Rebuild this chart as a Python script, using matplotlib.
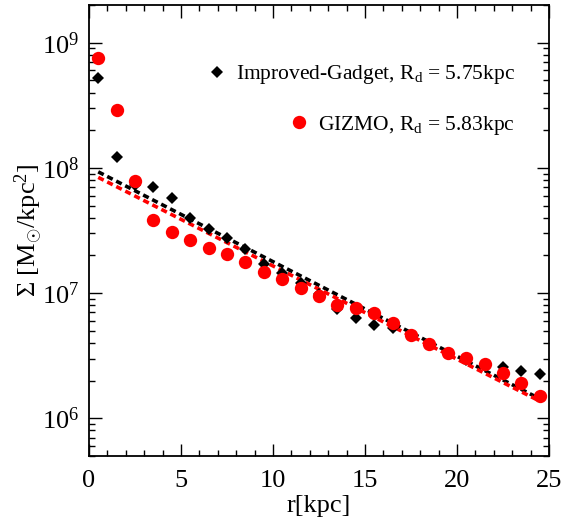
import numpy as np
import matplotlib
matplotlib.use('Agg')
import matplotlib.pyplot as plt
from matplotlib.ticker import MultipleLocator, LogLocator, LogFormatterMathtext, NullFormatter
from matplotlib.lines import Line2D

plt.rcParams['font.family'] = ['Liberation Serif', 'DejaVu Serif']
plt.rcParams['mathtext.fontset'] = 'custom'
plt.rcParams['mathtext.rm'] = 'Liberation Serif'
plt.rcParams['mathtext.it'] = 'Liberation Serif:italic'
plt.rcParams['mathtext.bf'] = 'Liberation Serif:bold'

# radial bins (kpc)
r = [0.5, 1.5, 2.5, 3.5, 4.5, 5.5, 6.5, 7.5, 8.5, 9.5, 10.5, 11.5,
     12.5, 13.5, 14.5, 15.5, 16.5, 17.5, 18.5, 19.5, 20.5, 21.5, 22.5, 23.5, 24.5]

# surface density, Msun/kpc^2
sigma_gadget = [5.2e8, 1.23e8, 7.3e7, 7.0e7, 5.7e7, 4.0e7, 3.25e7, 2.75e7, 2.25e7,
                1.72e7, 1.45e7, 1.2e7, 9.8e6, 7.5e6, 6.3e6, 5.6e6, 5.3e6, 4.6e6,
                3.85e6, 3.3e6, 2.9e6, 2.6e6, 2.55e6, 2.38e6, 2.25e6]
sigma_gizmo = [7.6e8, 2.9e8, 7.9e7, 3.85e7, 3.05e7, 2.67e7, 2.28e7, 2.05e7, 1.77e7,
               1.48e7, 1.29e7, 1.1e7, 9.4e6, 8.0e6, 7.6e6, 6.9e6, 5.75e6, 4.65e6,
               3.95e6, 3.35e6, 3.05e6, 2.72e6, 2.3e6, 1.93e6, 1.5e6]

# exponential disc fits (end points)
r_fit = [0.5, 24.5]
fit_gadget = [9.3e7, 1.43e6]
fit_gizmo = [8.4e7, 1.37e6]

label_gadget = 'Improved-Gadget, R$_\\mathrm{d}$ = 5.75kpc'
label_gizmo = 'GIZMO, R$_\\mathrm{d}$ = 5.83kpc'

fig = plt.figure(figsize=(5.62, 5.2), dpi=100)
ax = fig.add_axes([0.1584, 0.1231, 0.8185, 0.8673])

dash = (0, (1.7, 1.1))
ax.plot(r_fit, fit_gadget, color='black', lw=2.6, linestyle=dash, zorder=2)
ax.plot(r_fit, fit_gizmo, color='red', lw=2.6, linestyle=dash, zorder=2)
ax.plot(r, sigma_gadget, 'D', color='black', ms=5.8, mew=0, zorder=3)
ax.plot(r, sigma_gizmo, 'o', color='red', ms=9.6, mew=0, zorder=4)

ax.set_yscale('log')
ax.set_xlim(0, 25)
ax.set_ylim(5e5, 2e9)

ax.xaxis.set_major_locator(MultipleLocator(5))
ax.xaxis.set_minor_locator(MultipleLocator(1))
ax.yaxis.set_major_locator(LogLocator(base=10, numticks=10))
ax.yaxis.set_minor_locator(LogLocator(base=10, subs=np.arange(2, 10), numticks=20))
ax.yaxis.set_major_formatter(LogFormatterMathtext())
ax.yaxis.set_minor_formatter(NullFormatter())

ax.tick_params(which='both', direction='in', top=True, right=True, width=1.0, labelsize=19)
ax.tick_params(which='major', length=9)
ax.tick_params(which='minor', length=4.5)
ax.tick_params(axis='x', pad=10)
ax.tick_params(axis='y', pad=7)
for s in ax.spines.values():
    s.set_linewidth(1.3)

ax.set_xlabel('r[kpc]', fontsize=19, labelpad=2)
ax.set_ylabel('Σ [M$_{\\odot}$/kpc$^2$]', fontsize=19, labelpad=-2)

h1 = Line2D([], [], marker='D', color='black', ls='none', ms=5.8, mew=0)
h2 = Line2D([], [], marker='o', color='red', ls='none', ms=9.6, mew=0)
leg1 = ax.legend([h1], [label_gadget], loc='upper right', bbox_to_anchor=(0.926, 0.871),
                 frameon=False, fontsize=15.5, handlelength=0.6, handletextpad=0.6,
                 borderaxespad=0, borderpad=0)
ax.add_artist(leg1)
ax.legend([h2], [label_gizmo], loc='upper right', bbox_to_anchor=(0.926, 0.759),
          frameon=False, fontsize=15.5, handlelength=0.6, handletextpad=0.6,
          borderaxespad=0, borderpad=0)

fig.savefig('out.png', dpi=100)
